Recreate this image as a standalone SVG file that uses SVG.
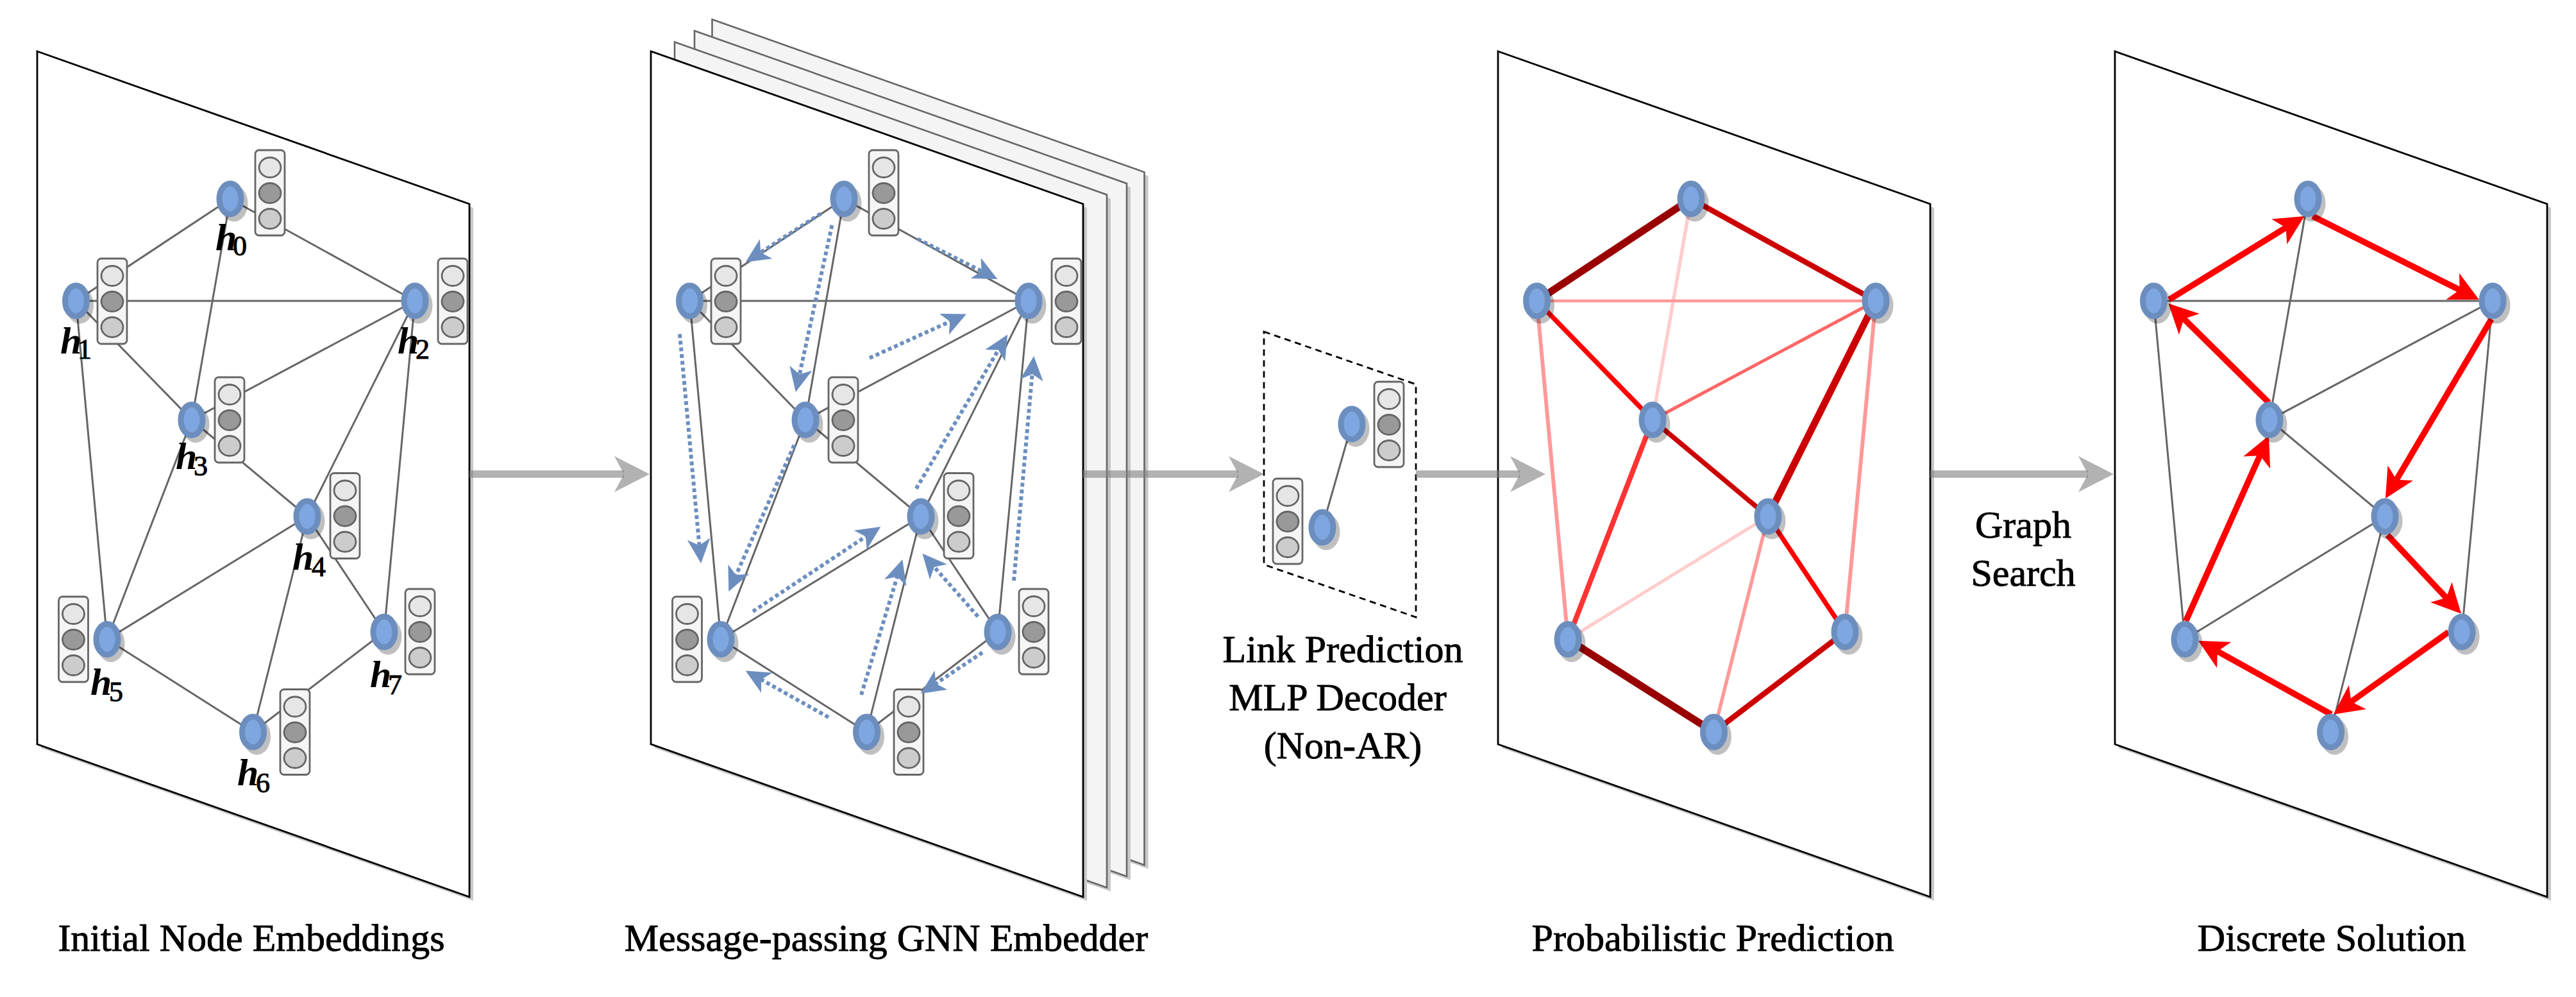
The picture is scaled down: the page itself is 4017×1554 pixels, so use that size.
<svg xmlns="http://www.w3.org/2000/svg" xmlns:xlink="http://www.w3.org/1999/xlink" width="4017" height="1554" viewBox="0 0 4017 1554">
<style>
.panel{fill:#fff;stroke:#000;stroke-width:2.8}
.pshadow{fill:#c8c8c8;stroke:none}
.page{fill:#f4f4f4;stroke:#666;stroke-width:2.6}
.dash{fill:none;stroke:#000;stroke-width:2.8;stroke-dasharray:10 7}
.edge{stroke:#666;stroke-width:3;fill:none}
.msg{stroke:#6c8ebf;stroke-width:6;stroke-dasharray:6 4.5;fill:none;marker-end:url(#blueHead)}
.sol{stroke:#ff0000;stroke-width:9.5;fill:none;marker-end:url(#redHead)}
.flow{fill:#808080;stroke:none;opacity:0.6}
.flowline{stroke:#808080;stroke-width:11.5;opacity:0.6}
.lbl{font-family:"Liberation Serif","Times New Roman",serif;font-size:60px;text-anchor:middle;fill:#000;stroke:#000;stroke-width:0.9}
.math{font-family:"Liberation Serif","Times New Roman",serif;font-style:italic;font-weight:bold;font-size:60px;fill:#000}
.sub{font-family:"Liberation Serif","Times New Roman",serif;font-size:44px;fill:#000;stroke:#000;stroke-width:1}
</style>
<defs>
<path id="pg" d="M0,0 L674,238 L674,1318 L0,1080 Z"/>
<g id="node"><ellipse cx="6" cy="7" rx="21.5" ry="28.5" fill="#000" fill-opacity="0.25"/><ellipse rx="17" ry="24" fill="#7ea6e0" stroke="#6c8ebf" stroke-width="9"/></g>
<g id="emb"><rect width="46" height="133" rx="6" fill="#f5f5f5" stroke="#666" stroke-width="2.8"/><ellipse cx="23" cy="27" rx="17" ry="15.5" fill="#e6e6e6" stroke="#666" stroke-width="2.8"/><ellipse cx="23" cy="67" rx="17" ry="15.5" fill="#999" stroke="#666" stroke-width="2.8"/><ellipse cx="23" cy="107" rx="17" ry="15.5" fill="#ccc" stroke="#666" stroke-width="2.8"/></g>
<g id="flowhead"><polygon points="0,0 -55,-28 -40,0 -55,28"/><polygon points="-13,0 -42,-14 -32,0 -42,14"/></g>
<marker id="redHead" markerUnits="userSpaceOnUse" viewBox="0 0 46 46" refX="16" refY="23" markerWidth="46" markerHeight="46" orient="auto"><path d="M0,0 L46,23 L0,46 L12,23 Z" fill="#ff0000"/></marker>
<marker id="blueHead" markerUnits="userSpaceOnUse" viewBox="0 0 38 36" refX="15" refY="18" markerWidth="38" markerHeight="36" orient="auto"><path d="M0,0 L38,18 L0,36 L10,18 Z" fill="#6c8ebf"/></marker>
</defs>

<g id="panels">
<g id="panel-initial"><use href="#pg" class="pshadow" x="64" y="86"/><use href="#pg" class="panel" x="58" y="80"/></g>
<g id="panel-gnn">
<use href="#pg" class="pshadow" x="1116.5" y="36.3"/><use href="#pg" class="page" x="1110.5" y="30.3"/>
<use href="#pg" class="pshadow" x="1089" y="54"/><use href="#pg" class="page" x="1083" y="48"/>
<use href="#pg" class="pshadow" x="1058" y="71.4"/><use href="#pg" class="page" x="1052" y="65.4"/>
<use href="#pg" class="pshadow" x="1021" y="86"/><use href="#pg" class="panel" x="1015" y="80"/>
</g>
<g id="panel-decoder"><polygon class="dash" points="1971,517 2208,599 2208,962 1971,880"/></g>
<g id="panel-prob"><use href="#pg" class="pshadow" x="2342" y="86"/><use href="#pg" class="panel" x="2336" y="80"/></g>
<g id="panel-solution"><use href="#pg" class="pshadow" x="3304" y="86"/><use href="#pg" class="panel" x="3298" y="80"/></g>
</g>

<g id="connectors">
<g id="edges-initial" class="edge" transform="translate(58,0)">
<line x1="301" y1="310" x2="60.5" y2="469"/><line x1="301" y1="310" x2="589" y2="469"/><line x1="301" y1="310" x2="241" y2="654.5"/>
<line x1="60.5" y1="469" x2="589" y2="469"/><line x1="60.5" y1="469" x2="241" y2="654.5"/><line x1="60.5" y1="469" x2="109" y2="996.5"/>
<line x1="589" y1="469" x2="241" y2="654.5"/><line x1="589" y1="469" x2="421" y2="805"/><line x1="589" y1="469" x2="541" y2="985"/>
<line x1="241" y1="654.5" x2="421" y2="805"/><line x1="241" y1="654.5" x2="109" y2="996.5"/><line x1="421" y1="805" x2="109" y2="996.5"/>
<line x1="421" y1="805" x2="336.5" y2="1141"/><line x1="421" y1="805" x2="541" y2="985"/><line x1="109" y1="996.5" x2="336.5" y2="1141"/>
<line x1="336.5" y1="1141" x2="541" y2="985"/>
</g>
<g id="edges-gnn" class="edge" transform="translate(1015,0)">
<line x1="301" y1="310" x2="60.5" y2="469"/><line x1="301" y1="310" x2="589" y2="469"/><line x1="301" y1="310" x2="241" y2="654.5"/>
<line x1="60.5" y1="469" x2="589" y2="469"/><line x1="60.5" y1="469" x2="241" y2="654.5"/><line x1="60.5" y1="469" x2="109" y2="996.5"/>
<line x1="589" y1="469" x2="241" y2="654.5"/><line x1="589" y1="469" x2="421" y2="805"/><line x1="589" y1="469" x2="541" y2="985"/>
<line x1="241" y1="654.5" x2="421" y2="805"/><line x1="241" y1="654.5" x2="109" y2="996.5"/><line x1="421" y1="805" x2="109" y2="996.5"/>
<line x1="421" y1="805" x2="336.5" y2="1141"/><line x1="421" y1="805" x2="541" y2="985"/><line x1="109" y1="996.5" x2="336.5" y2="1141"/>
<line x1="336.5" y1="1141" x2="541" y2="985"/>
</g>
<g id="edges-decoder" class="edge"><line x1="2108" y1="661" x2="2062" y2="822"/></g>
<g id="edges-prob" transform="translate(2336,0)" fill="none">
<line x1="301" y1="310" x2="241" y2="654.5" stroke="#ffcccc" stroke-width="5.5"/>
<line x1="421" y1="805" x2="109" y2="996.5" stroke="#ffcccc" stroke-width="5"/>
<line x1="60.5" y1="469" x2="589" y2="469" stroke="#ff9999" stroke-width="4.5"/>
<line x1="60.5" y1="469" x2="109" y2="996.5" stroke="#ff9999" stroke-width="6"/>
<line x1="589" y1="469" x2="541" y2="985" stroke="#ff9999" stroke-width="6"/>
<line x1="421" y1="805" x2="336.5" y2="1141" stroke="#ff9999" stroke-width="5.5"/>
<line x1="589" y1="469" x2="241" y2="654.5" stroke="#ff6666" stroke-width="5"/>
<line x1="241" y1="654.5" x2="109" y2="996.5" stroke="#ff3333" stroke-width="8"/>
<line x1="60.5" y1="469" x2="241" y2="654.5" stroke="#ff0000" stroke-width="7.5"/>
<line x1="421" y1="805" x2="541" y2="985" stroke="#ff0000" stroke-width="7.5"/>
<line x1="241" y1="654.5" x2="421" y2="805" stroke="#cc0000" stroke-width="7.5"/>
<line x1="301" y1="310" x2="589" y2="469" stroke="#cc0000" stroke-width="8.5"/>
<line x1="336.5" y1="1141" x2="541" y2="985" stroke="#cc0000" stroke-width="8.5"/>
<line x1="589" y1="469" x2="421" y2="805" stroke="#cc0000" stroke-width="11"/>
<line x1="301" y1="310" x2="60.5" y2="469" stroke="#990000" stroke-width="11.5"/>
<line x1="109" y1="996.5" x2="336.5" y2="1141" stroke="#990000" stroke-width="11.5"/>
</g>
<g id="edges-solution" class="edge" transform="translate(3298,0)">
<line x1="60.5" y1="469" x2="589" y2="469"/><line x1="301" y1="310" x2="241" y2="654.5"/><line x1="589" y1="469" x2="241" y2="654.5"/>
<line x1="60.5" y1="469" x2="109" y2="996.5"/><line x1="241" y1="654.5" x2="421" y2="805"/><line x1="589" y1="469" x2="541" y2="985"/>
<line x1="421" y1="805" x2="109" y2="996.5"/><line x1="421" y1="805" x2="336.5" y2="1141"/>
</g>
<g id="tour-solution">
<path class="sol" d="M3382.6,467 L3567.9,352.7"/>
<path class="sol" d="M3606.4,337 L3839,453.6"/>
<path class="sol" d="M3885,497.6 L3735.1,751.1"/>
<path class="sol" d="M3723,834 L3817.5,934.7"/>
<path class="sol" d="M3818.4,985 L3663.2,1096"/>
<path class="sol" d="M3635.5,1113.5 L3454.3,1013.2"/>
<path class="sol" d="M3408.6,968 L3525.7,706.4"/>
<path class="sol" d="M3538,627.6 L3402.7,494.1"/>
</g>
</g>

<g id="nodes-initial">
<g id="h0"><use href="#emb" x="398" y="234"/><use href="#node" x="359" y="310"/><text class="math" x="336" y="390">h</text><text class="sub" x="363" y="398">0</text></g>
<g id="h1"><use href="#emb" x="152" y="403"/><use href="#node" x="118.5" y="469"/><text class="math" x="94" y="551">h</text><text class="sub" x="121" y="559">1</text></g>
<g id="h2"><use href="#emb" x="683" y="403"/><use href="#node" x="647" y="469"/><text class="math" x="620" y="551">h</text><text class="sub" x="648" y="559">2</text></g>
<g id="h3"><use href="#emb" x="335" y="588"/><use href="#node" x="299" y="654.5"/><text class="math" x="274" y="731">h</text><text class="sub" x="302" y="741">3</text></g>
<g id="h4"><use href="#emb" x="515" y="737.5"/><use href="#node" x="479" y="805"/><text class="math" x="456" y="888">h</text><text class="sub" x="486" y="898">4</text></g>
<g id="h5"><use href="#emb" x="91.5" y="930"/><use href="#node" x="167" y="996.5"/><text class="math" x="141" y="1083">h</text><text class="sub" x="170" y="1093">5</text></g>
<g id="h6"><use href="#emb" x="437" y="1074.5"/><use href="#node" x="394.5" y="1141"/><text class="math" x="370" y="1224">h</text><text class="sub" x="399" y="1235">6</text></g>
<g id="h7"><use href="#emb" x="632" y="918"/><use href="#node" x="599" y="985"/><text class="math" x="577" y="1071">h</text><text class="sub" x="605" y="1082">7</text></g>
</g>

<g id="nodes-gnn">
<g id="g0"><use href="#emb" x="1355" y="234"/><use href="#node" x="1316" y="310"/></g>
<g id="g1"><use href="#emb" x="1109" y="403"/><use href="#node" x="1075.5" y="469"/></g>
<g id="g2"><use href="#emb" x="1640" y="403"/><use href="#node" x="1604" y="469"/></g>
<g id="g3"><use href="#emb" x="1292" y="588"/><use href="#node" x="1256" y="654.5"/></g>
<g id="g4"><use href="#emb" x="1472" y="737.5"/><use href="#node" x="1436" y="805"/></g>
<g id="g5"><use href="#emb" x="1048.5" y="930"/><use href="#node" x="1124" y="996.5"/></g>
<g id="g6"><use href="#emb" x="1394" y="1074.5"/><use href="#node" x="1351.5" y="1141"/></g>
<g id="g7"><use href="#emb" x="1589" y="918"/><use href="#node" x="1556" y="985"/></g>
</g>

<g id="nodes-decoder">
<g id="d0"><use href="#emb" x="2143" y="595"/><use href="#node" x="2108" y="661"/></g>
<g id="d1"><use href="#emb" x="1985" y="746"/><use href="#node" x="2062" y="822"/></g>
</g>

<g id="nodes-prob">
<g id="p0"><use href="#node" x="2637" y="310"/></g>
<g id="p1"><use href="#node" x="2396.5" y="469"/></g>
<g id="p2"><use href="#node" x="2925" y="469"/></g>
<g id="p3"><use href="#node" x="2577" y="654.5"/></g>
<g id="p4"><use href="#node" x="2757" y="805"/></g>
<g id="p5"><use href="#node" x="2445" y="996.5"/></g>
<g id="p6"><use href="#node" x="2672.5" y="1141"/></g>
<g id="p7"><use href="#node" x="2877" y="985"/></g>
</g>

<g id="nodes-solution">
<g id="s0"><use href="#node" x="3599" y="310"/></g>
<g id="s1"><use href="#node" x="3358.5" y="469"/></g>
<g id="s2"><use href="#node" x="3887" y="469"/></g>
<g id="s3"><use href="#node" x="3539" y="654.5"/></g>
<g id="s4"><use href="#node" x="3719" y="805"/></g>
<g id="s5"><use href="#node" x="3407" y="996.5"/></g>
<g id="s6"><use href="#node" x="3634.5" y="1141"/></g>
<g id="s7"><use href="#node" x="3839" y="985"/></g>
</g>

<g id="message-arrows">
<path class="msg" d="M1280,333 L1182,396.1"/>
<path class="msg" d="M1297.4,351 L1245.7,588.5"/>
<path class="msg" d="M1431,372.4 L1534.9,424.7"/>
<path class="msg" d="M1060,520.7 L1091,855.1"/>
<path class="msg" d="M1356,558 L1486,499.1"/>
<path class="msg" d="M1238.5,693.8 L1145.7,900.9"/>
<path class="msg" d="M1428.7,761.6 L1559.4,541.2"/>
<path class="msg" d="M1581,905 L1610.1,577.9"/>
<path class="msg" d="M1174,953 L1354.1,833.6"/>
<path class="msg" d="M1343,1083 L1400.6,894"/>
<path class="msg" d="M1525,961 L1453.6,880.1"/>
<path class="msg" d="M1292,1118 L1182.7,1056.8"/>
<path class="msg" d="M1532,1017 L1455,1068.3"/>
</g>

<g id="flow-arrows">
<g id="flow1"><line class="flowline" x1="732" y1="739" x2="973" y2="739"/><use href="#flowhead" class="flow" x="1013" y="739"/></g>
<g id="flow2"><line class="flowline" x1="1689" y1="739" x2="1931" y2="739"/><use href="#flowhead" class="flow" x="1971" y="739"/></g>
<g id="flow3"><line class="flowline" x1="2208" y1="739" x2="2370" y2="739"/><use href="#flowhead" class="flow" x="2410" y="739"/></g>
<g id="flow4"><line class="flowline" x1="3010" y1="739" x2="3256" y2="739"/><use href="#flowhead" class="flow" x="3296" y="739"/></g>
</g>

<g id="labels">
<text class="lbl" x="392" y="1482">Initial Node Embeddings</text>
<text class="lbl" x="1382" y="1482">Message-passing GNN Embedder</text>
<text class="lbl" x="2671" y="1482">Probabilistic Prediction</text>
<text class="lbl" x="3636" y="1482">Discrete Solution</text>
<text class="lbl" x="2094" y="1032">Link Prediction</text>
<text class="lbl" x="2086" y="1107">MLP Decoder</text>
<text class="lbl" x="2094" y="1182">(Non-AR)</text>
<text class="lbl" x="3155" y="838">Graph</text>
<text class="lbl" x="3155" y="913">Search</text>
</g>
</svg>
